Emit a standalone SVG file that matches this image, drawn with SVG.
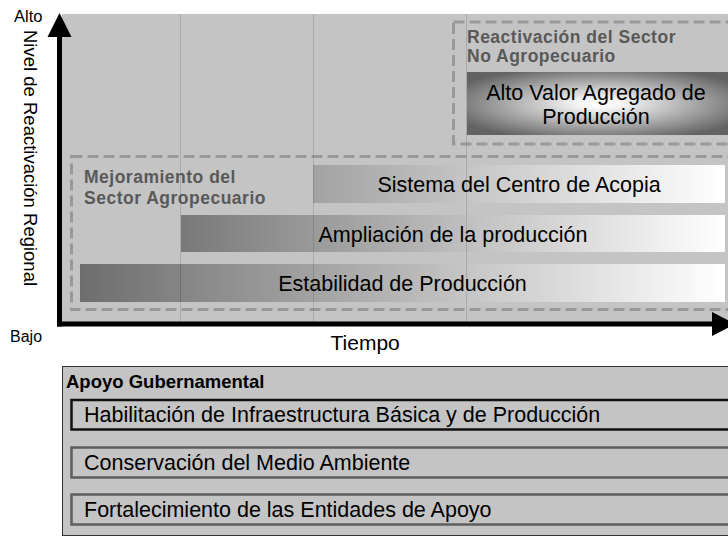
<svg xmlns="http://www.w3.org/2000/svg" width="728" height="537" viewBox="0 0 728 537">
<style>
.t{font-family:"Liberation Sans",Arial,sans-serif;fill:#000;}
.n{font-size:21.5px;}
.b{font-family:"Liberation Sans",Arial,sans-serif;font-weight:bold;font-size:17.5px;letter-spacing:0.5px;fill:#595959;}
.dash{fill:none;stroke:#999;stroke-width:3;stroke-dasharray:11 5;}
.grid{stroke:#000;stroke-opacity:0.13;stroke-width:1;}
.sup{fill:#c4c4c4;stroke-width:2.5;}
</style>
<defs>
<linearGradient id="g1" x1="0" y1="0" x2="1" y2="0"><stop offset="0" stop-color="#6e6e6e"/><stop offset="1" stop-color="#ffffff"/></linearGradient>
<linearGradient id="g2" x1="0" y1="0" x2="1" y2="0"><stop offset="0" stop-color="#797979"/><stop offset="1" stop-color="#ffffff"/></linearGradient>
<linearGradient id="g3" x1="0" y1="0" x2="1" y2="0"><stop offset="0" stop-color="#a2a2a2"/><stop offset="1" stop-color="#ffffff"/></linearGradient>
<radialGradient id="rg" cx="0.5" cy="0.5" r="0.6"><stop offset="0" stop-color="#ffffff"/><stop offset="0.12" stop-color="#f8f8f8"/><stop offset="1" stop-color="#636363"/></radialGradient>
</defs>
<rect width="728" height="537" fill="#fff"/>
<rect id="panel" x="62" y="14" width="666" height="308" fill="#c4c4c4"/>

<g id="sector-no-agro">
<rect class="dash" x="453.5" y="22" width="300" height="122" stroke-width="2.5" stroke-dasharray="10 5"/>
<text class="b" x="467" y="42.5">Reactivación del Sector</text>
<text class="b" x="467" y="61.5">No Agropecuario</text>
</g>
<g id="alto-valor">
<rect x="467" y="72" width="265" height="63" fill="url(#rg)"/>
<text class="t n" x="596" y="100" text-anchor="middle">Alto Valor Agregado de</text>
<text class="t n" x="596" y="123.5" text-anchor="middle">Producción</text>
</g>

<g id="sector-agro">
<rect class="dash" x="71.5" y="156.5" width="680" height="153"/>
<text class="b" x="84" y="183">Mejoramiento del</text>
<text class="b" x="84" y="204">Sector Agropecuario</text>
</g>
<g id="sistema">
<rect x="313" y="165" width="412" height="38" fill="url(#g3)"/>
<text class="t n" x="519" y="192" text-anchor="middle">Sistema del Centro de Acopia</text>
</g>
<g id="ampliacion">
<rect x="181" y="215" width="544" height="37" fill="url(#g2)"/>
<text class="t n" x="453" y="242" text-anchor="middle">Ampliación de la producción</text>
</g>
<g id="estabilidad">
<rect x="80" y="264" width="645" height="38" fill="url(#g1)"/>
<text class="t n" x="402.5" y="291" text-anchor="middle">Estabilidad de Producción</text>
</g>

<g id="gridlines">
<line class="grid" x1="180.5" y1="14" x2="180.5" y2="322"/>
<line class="grid" x1="313.5" y1="14" x2="313.5" y2="322"/>
<line class="grid" x1="466.5" y1="14" x2="466.5" y2="322"/>
</g>

<g id="connectors">
<line x1="59.5" y1="34" x2="59.5" y2="326.5" stroke="#000" stroke-width="5"/>
<polygon points="59.5,13 47.5,37 71.5,37" fill="#000"/>
<line x1="57" y1="324" x2="715" y2="324" stroke="#000" stroke-width="5"/>
<polygon points="712,312 735,324 712,336" fill="#000"/>
</g>

<g id="labels">
<text class="t" x="14" y="22" font-size="16.5">Alto</text>
<text class="t" x="10" y="342" font-size="16">Bajo</text>
<text class="t" x="330.5" y="349.5" font-size="21">Tiempo</text>
<text class="t" transform="translate(23.5,30) rotate(90)" font-size="18.5">Nivel de Reactivación Regional</text>
</g>

<g id="apoyo">
<rect x="62.5" y="366.5" width="700" height="169" fill="#c4c4c4" stroke="#333" stroke-width="1"/>
<text class="t" x="66" y="388" font-size="18.5" font-weight="bold">Apoyo Gubernamental</text>
</g>
<g id="habilitacion">
<rect class="sup" x="71.5" y="400" width="680" height="29.5" stroke="#111"/>
<text class="t n" x="84" y="422">Habilitación de Infraestructura Básica y de Producción</text>
</g>
<g id="conservacion">
<rect class="sup" x="71.5" y="447.5" width="680" height="30" stroke="#5e5e5e"/>
<text class="t n" x="84" y="469.5">Conservación del Medio Ambiente</text>
</g>
<g id="fortalecimiento">
<rect class="sup" x="71.5" y="494.5" width="680" height="30" stroke="#5e5e5e"/>
<text class="t n" x="84" y="516.5">Fortalecimiento de las Entidades de Apoyo</text>
</g>
</svg>
